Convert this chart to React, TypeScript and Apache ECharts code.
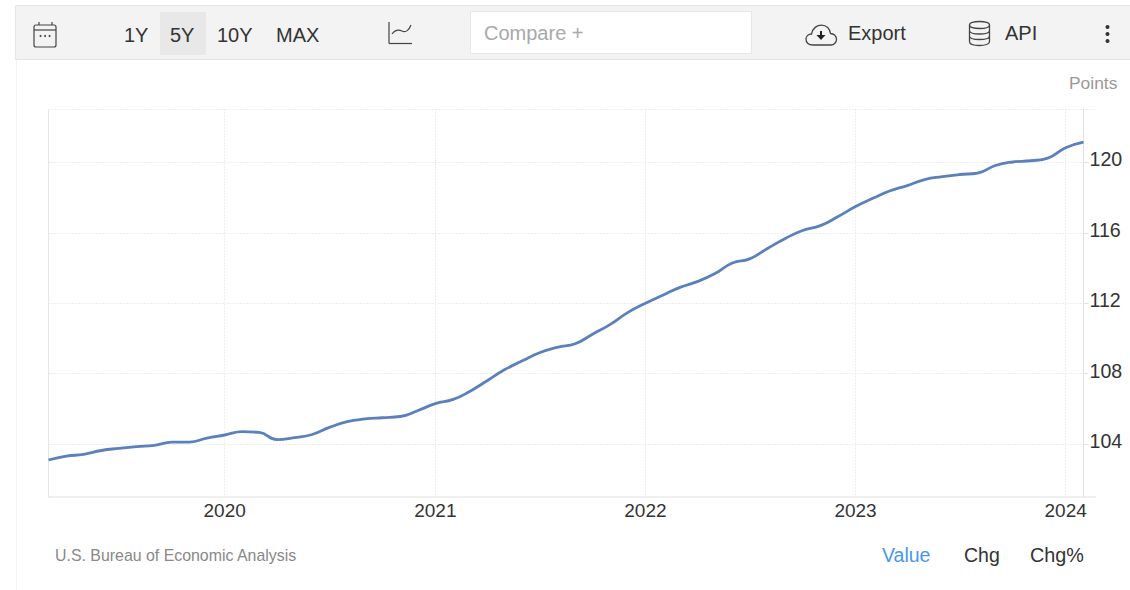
import React, { useEffect, useRef } from "react";
import * as echarts from "echarts";

const values2019 = [103.10, 103.32, 103.42, 103.64, 103.76, 103.86, 103.93, 104.11, 104.12, 104.34];
const values2020 = [104.52, 104.71, 104.67, 104.26, 104.37, 104.55, 104.95, 105.28, 105.43, 105.5, 105.57, 105.9];
const values2021 = [106.3, 106.54, 106.98, 107.6, 108.22, 108.73, 109.19, 109.5, 109.7, 110.24, 110.8, 111.47];
const values2022 = [112.0, 112.47, 112.89, 113.23, 113.67, 114.29, 114.52, 115.11, 115.68, 116.13, 116.41, 116.91];
const values2023 = [117.49, 117.97, 118.37, 118.68, 119.02, 119.19, 119.31, 119.39, 119.82, 120.02, 120.09, 120.24];
const values2024 = [120.83, 121.15];

const yTicks = [104, 108, 112, 116, 120];
const xTickYears = [2020, 2021, 2022, 2023, 2024];
const rangeButtons = ["1Y", "5Y", "10Y", "MAX"];
const sourceText = "U.S. Bureau of Economic Analysis";
const unitText = "Points";

const FONT = '"Liberation Sans", Arial, sans-serif';
const INK = "#333333";
const ICON = "#444444";

const CLOUD =
  "M8 21 C3 21 1 18 1 15.5 C1 12.5 3.5 10.5 6.5 10.5 C7.5 5 12 2 16.5 2 C21.5 2 25 5.5 25.5 10 C29 10 31.5 12.5 31.5 15.5 C31.5 18.5 29 21 26 21 Z";
echarts.graphic.registerShape("cloudIcon", echarts.graphic.extendPath(CLOUD, {}));
const DB =
  "M1 4.5 C1 2 5.5 1 11 1 C16.5 1 21 2 21 4.5 C21 7 16.5 8 11 8 C5.5 8 1 7 1 4.5 Z M1 4.5 L1 21 C1 23.5 5.5 25 11 25 C16.5 25 21 23.5 21 21 L21 4.5 M1 10 C1 12.5 5.5 13.5 11 13.5 C16.5 13.5 21 12.5 21 10 M1 15.5 C1 18 5.5 19 11 19 C16.5 19 21 18 21 15.5";
echarts.graphic.registerShape("dbIcon", echarts.graphic.extendPath(DB, {}));
const TREND = "M0 12 C3 8 6 7 10 9 C14 11 17 8 19 3";
echarts.graphic.registerShape("trendIcon", echarts.graphic.extendPath(TREND, {}));

function buildDates(): number[] {
  const out: number[] = [];
  let y = 2019;
  let m = 2;
  const count =
    values2019.length + values2020.length + values2021.length + values2022.length + values2023.length + values2024.length;
  for (let i = 0; i < count; i++) {
    out.push(Date.UTC(y, m, 1));
    m++;
    if (m > 11) {
      m = 0;
      y++;
    }
  }
  return out;
}

export default function App() {
  const ref = useRef<HTMLDivElement>(null);
  useEffect(() => {
    if (!ref.current) return;
    const chart = echarts.init(ref.current, undefined, { renderer: "svg" });
    const dates = buildDates();
    const all = [...values2019, ...values2020, ...values2021, ...values2022, ...values2023, ...values2024];
    const seriesData = dates.map((d, i) => [d, all[i]]);
    const xTicks = xTickYears.map((y) => Date.UTC(y, 0, 1));

    const text = (x: number, y: number, t: string, fill: string, size: number) => ({
      type: "text",
      x,
      y,
      silent: true,
      style: { text: t, fill, fontSize: size, fontFamily: FONT, verticalAlign: "middle" },
    });
    const ln = (x1: number, y1: number, x2: number, y2: number, stroke: string, lineWidth = 1, lineDash?: number[]) => ({
      type: "line",
      silent: true,
      shape: { x1, y1, x2, y2 },
      style: { stroke, lineWidth, lineDash },
    });

    const btnX = [124, 170, 217, 276];
    const graphics: any[] = [
      ln(16.5, 60, 16.5, 590, "#f4f4f4"),
      { type: "rect", silent: true, shape: { x: 15.5, y: 5.5, width: 1120, height: 54 }, style: { fill: "#f3f3f3", stroke: "#e4e4e4", lineWidth: 1 } },
      { type: "rect", silent: true, shape: { x: 160, y: 12, width: 46, height: 43 }, style: { fill: "#e8e8e8" } },
      { type: "rect", silent: true, shape: { x: 470.5, y: 11.5, width: 281, height: 42 }, style: { fill: "#ffffff", stroke: "#e8e8e2", lineWidth: 1 } },
      ...rangeButtons.map((b, i) => text(btnX[i], 34.5, b, INK, 20)),
      text(484, 33, "Compare +", "#a8a8a8", 20),
      text(848, 33, "Export", INK, 20),
      text(1005, 33, "API", INK, 20),
      // calendar icon
      { type: "rect", silent: true, shape: { x: 34, y: 25, width: 22, height: 22, r: 2 }, style: { fill: "none", stroke: ICON, lineWidth: 1.2 } },
      ln(34, 30, 56, 30, ICON, 1.2),
      ln(39, 22, 39, 25, ICON, 1.2),
      ln(52, 22, 52, 25, ICON, 1.2),
      { type: "circle", silent: true, shape: { cx: 40.5, cy: 36, r: 1 }, style: { fill: ICON } },
      { type: "circle", silent: true, shape: { cx: 45, cy: 36, r: 1 }, style: { fill: ICON } },
      { type: "circle", silent: true, shape: { cx: 49.5, cy: 36, r: 1 }, style: { fill: ICON } },
      // line-chart icon
      ln(389, 22, 389, 43.5, ICON, 1.2),
      ln(389, 43.5, 412, 43.5, ICON, 1.2),
      { type: "trendIcon", silent: true, x: 392, y: 22, style: { fill: "none", stroke: ICON, lineWidth: 1.2 } },
      // cloud icon
      { type: "cloudIcon", silent: true, x: 805, y: 23, scaleY: 1.05, style: { fill: "none", stroke: ICON, lineWidth: 1.3 } },
      ln(821, 31, 821, 36, "#222222", 2),
      { type: "polygon", silent: true, shape: { points: [[816.5, 35], [825.5, 35], [821, 40]] }, style: { fill: "#222222" } },
      // database icon
      { type: "dbIcon", silent: true, x: 968.5, y: 20.5, style: { fill: "none", stroke: ICON, lineWidth: 1.3 } },
      // more icon
      { type: "circle", silent: true, shape: { cx: 1107.5, cy: 27, r: 2 }, style: { fill: "#333" } },
      { type: "circle", silent: true, shape: { cx: 1107.5, cy: 34, r: 2 }, style: { fill: "#333" } },
      { type: "circle", silent: true, shape: { cx: 1107.5, cy: 41, r: 2 }, style: { fill: "#333" } },
      // plot frame
      ln(48.5, 109.5, 1096, 109.5, "#dcdcdc", 1, [1, 2]),
      ln(48.5, 109.5, 48.5, 497, "#e6e6e6", 1),
      ln(48, 497, 1096, 497, "#e2e2e2", 1.2),
      text(1069, 83, unitText, "#999999", 17.4),
      text(55, 555, sourceText, "#888888", 15.9),
      text(882, 555, "Value", "#4a96ee", 19.5),
      text(964, 555, "Chg", INK, 19.5),
      text(1030, 555, "Chg%", INK, 19.8),
    ];

    chart.setOption({
      animation: false,
      backgroundColor: "#ffffff",
      grid: { left: 48.5, right: 1130 - 1083.5, top: 109.5, bottom: 590 - 497 },
      xAxis: {
        type: "value",
        min: Date.UTC(2019, 2, 1),
        max: Date.UTC(2024, 1, 1),
        axisLine: { show: false },
        axisTick: { show: false, customValues: xTicks },
        axisLabel: {
          customValues: xTicks,
          color: INK,
          fontSize: 19,
          fontFamily: FONT,
          margin: 4,
          hideOverlap: false,
          formatter: (v: number) => String(new Date(v).getUTCFullYear()),
        },
        splitLine: { show: true, lineStyle: { color: "#dcdcdc", type: [1, 2], width: 1 } },
      },
      yAxis: {
        type: "value",
        position: "right",
        min: 101,
        max: 123,
        axisLine: { show: true, lineStyle: { color: "#e2e2e2", width: 1 } },
        axisTick: { show: true, length: 5, customValues: yTicks, lineStyle: { color: "#e2e2e2" } },
        axisLabel: {
          customValues: yTicks,
          color: INK,
          fontSize: 19.6,
          fontFamily: FONT,
          margin: 6,
          verticalAlign: "bottom",
          lineHeight: 6,
        },
        splitLine: { show: true, lineStyle: { color: "#dcdcdc", type: [1, 2], width: 1 } },
      },
      series: [
        {
          type: "line",
          data: seriesData,
          showSymbol: false,
          smooth: 0.5,
          clip: false,
          lineStyle: { color: "#5b80bc", width: 2.8 },
        },
      ],
      graphic: { elements: graphics },
    });
    return () => chart.dispose();
  }, []);
  return (
    <div
      ref={ref}
      style={{ position: "absolute", left: 0, top: 0, width: 1130, height: 590, background: "#fff" }}
    />
  );
}
